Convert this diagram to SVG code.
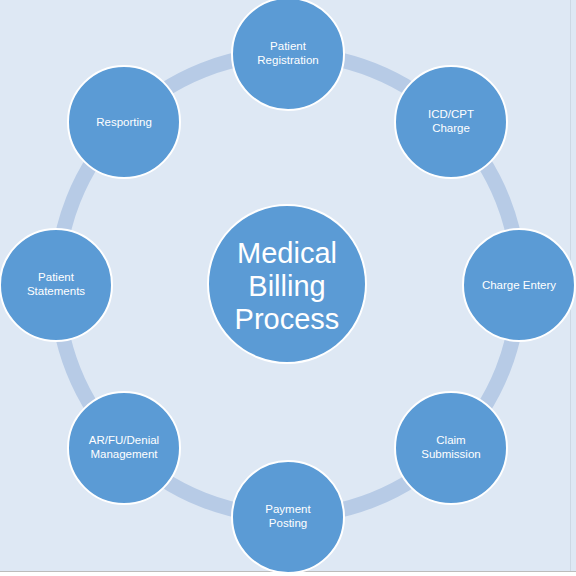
<svg xmlns="http://www.w3.org/2000/svg" width="576" height="576" viewBox="0 0 576 576">
<style>
.node circle{fill:#5b9bd5;stroke:#ffffff;stroke-width:2}
.lbl{font-family:"Liberation Sans",Arial,sans-serif;font-size:11.5px;fill:#ffffff;text-anchor:middle}
.big{font-family:"Liberation Sans",Arial,sans-serif;font-size:29px;fill:#ffffff;text-anchor:middle}
</style>
<rect x="0" y="0" width="576" height="576" fill="#dee8f4"/>
<line x1="570.5" y1="0" x2="570.5" y2="571" stroke="#cdd8e4" stroke-width="1"/>
<rect x="0" y="572" width="576" height="4" fill="#ffffff"/>
<line x1="0" y1="571.5" x2="576" y2="571.5" stroke="#bcbcbc" stroke-width="1.2"/>
<g id="connectors">
<circle cx="288" cy="285" r="231" fill="none" stroke="#b7cbe6" stroke-width="15"/>
</g>
<g id="center" class="node">
<circle cx="287" cy="284" r="79"/>
<text class="big" x="287" y="263">Medical</text>
<text class="big" x="287" y="296">Billing</text>
<text class="big" x="287" y="329">Process</text>
</g>
<g id="patient-registration" class="node">
<circle cx="288" cy="54" r="56"/>
<text class="lbl" x="288" y="50">Patient</text>
<text class="lbl" x="288" y="64">Registration</text>
</g>
<g id="icd-cpt-charge" class="node">
<circle cx="451" cy="122" r="56"/>
<text class="lbl" x="451" y="118">ICD/CPT</text>
<text class="lbl" x="451" y="132">Charge</text>
</g>
<g id="charge-entery" class="node">
<circle cx="519" cy="285" r="56"/>
<text class="lbl" x="519" y="289">Charge Entery</text>
</g>
<g id="claim-submission" class="node">
<circle cx="451" cy="448" r="56"/>
<text class="lbl" x="451" y="444">Claim</text>
<text class="lbl" x="451" y="458">Submission</text>
</g>
<g id="payment-posting" class="node">
<circle cx="288" cy="517" r="56"/>
<text class="lbl" x="288" y="513">Payment</text>
<text class="lbl" x="288" y="527">Posting</text>
</g>
<g id="ar-fu-denial" class="node">
<circle cx="124" cy="448" r="56"/>
<text class="lbl" x="124" y="444">AR/FU/Denial</text>
<text class="lbl" x="124" y="458">Management</text>
</g>
<g id="patient-statements" class="node">
<circle cx="56" cy="285" r="56"/>
<text class="lbl" x="56" y="281">Patient</text>
<text class="lbl" x="56" y="295">Statements</text>
</g>
<g id="resporting" class="node">
<circle cx="124" cy="122" r="56"/>
<text class="lbl" x="124" y="126">Resporting</text>
</g>
</svg>
